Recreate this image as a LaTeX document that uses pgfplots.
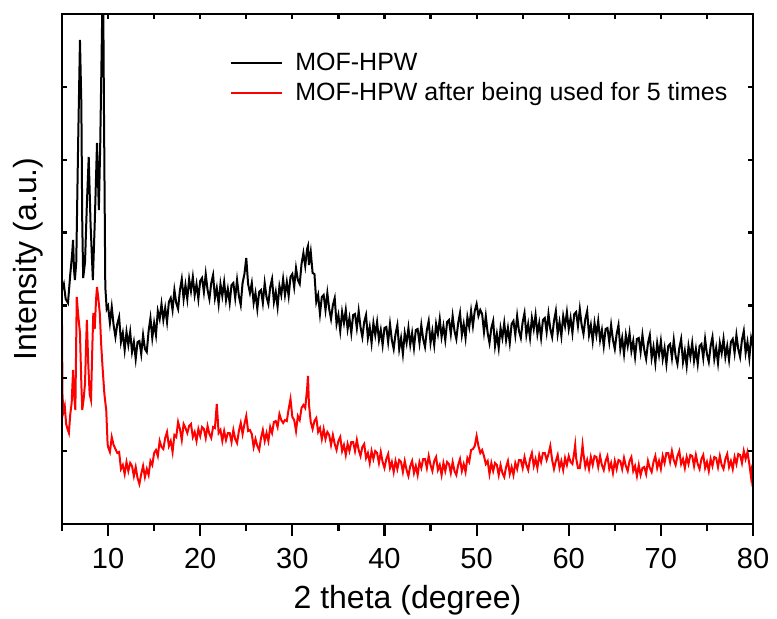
\documentclass[border=0pt]{standalone}
\usepackage{fontspec}
\setmainfont{Liberation Sans}
\usepackage{pgfplots}
\pgfplotsset{compat=1.18}
\begin{document}
\begin{tikzpicture}
\begin{axis}[
  name=ax,
  scale only axis, width=691pt, height=510pt,
  xmin=5, xmax=80, ymin=0, ymax=510,
  axis line style={line width=2.6pt},
  xtick={10,20,...,80}, minor xtick={5,15,...,75},
  xtick pos=left, tick align=outside,
  major tick length=12pt, minor tick length=7pt,
  every tick/.style={line width=2.2pt, black},
  ytick=\empty,
  /pgf/number format/assume math mode=true,
  xticklabel style={font=\fontsize{29}{34}\selectfont, yshift=-9pt},
  xlabel={2 theta (degree)}, ylabel={Intensity (a.u.)},
  label style={font=\fontsize{32}{38}\selectfont},
  xlabel style={at={(axis description cs:0.5,0)}, anchor=base, yshift=-84pt},
  ylabel style={at={(axis description cs:-0.049,0.52)}, anchor=center},
  legend cell align=left,
  legend image code/.code={\draw[#1] (0pt,0pt) -- (51pt,0pt);},
  legend style={at={(rel axis cs:0.239,0.931)}, anchor=north west, draw=none, fill=none,
    font=\fontsize{25}{30}\selectfont, row sep=6pt,
    nodes={inner sep=0pt, text height=19pt, text depth=5pt},
    /tikz/every odd column/.append style={column sep=12pt}},
]
\addplot[black, line width=2pt] coordinates {
(5.0,234)(5.2,240)(5.4,225)(5.65,221)(5.9,250)(6.1,270)(6.2,284)(6.3,255)(6.4,244)(6.55,262)(6.75,380)(6.95,484)(7.1,420)(7.2,300)(7.3,246)(7.5,262)(7.7,320)(7.9,367)(8.1,300)(8.35,244)(8.55,300)(8.8,381)(9.0,314)(9.15,380)(9.3,471)(9.45,560)(9.55,420)(9.7,237)(9.85,215)
(10.0,218)(10.2,201)(10.4,217)(10.6,199)(10.8,187)(11.0,200)(11.2,207)(11.4,182)(11.6,191)(11.8,174)(12.0,192)(12.2,179)(12.4,192)(12.6,172)(12.8,182)(13.0,165)(13.2,182)(13.4,183)(13.6,170)(13.8,189)(14.0,175)(14.2,172)(14.4,193)(14.6,206)(14.8,186)(15.0,201)(15.2,189)(15.4,213)(15.6,205)(15.8,220)(16.0,204)(16.2,216)(16.4,202)(16.6,222)(16.8,226)(17.0,214)(17.2,234)(17.4,221)(17.6,215)(17.8,234)(18.0,245)(18.2,225)(18.4,239)(18.6,225)(18.8,245)(19.0,233)(19.2,247)(19.4,229)(19.6,240)(19.8,225)(20.0,243)(20.2,246)(20.4,232)(20.6,250)(20.8,234)(21.0,225)(21.2,241)(21.4,249)(21.6,226)(21.8,236)(22.0,220)(22.2,240)(22.4,228)(22.6,242)(22.8,224)(23.0,235)(23.2,221)(23.4,239)(23.6,241)(23.8,226)(24.0,244)(24.2,228)(24.4,219)(24.6,241)(24.8,250)(25.0,266)(25.2,240)(25.4,231)(25.6,241)(25.8,221)(26.0,231)(26.2,215)(26.4,232)(26.6,234)(26.8,221)(27.0,241)(27.2,227)(27.4,220)(27.6,237)(27.8,245)(28.0,222)(28.2,232)(28.4,217)(28.6,238)(28.8,229)(29.0,245)(29.2,229)(29.4,242)(29.6,228)(29.8,247)(30.0,250)(30.2,237)(30.4,256)(30.6,244)(30.8,240)(31.0,260)(31.2,271)(31.4,258)(31.6,275)(31.7,278)(31.8,259)(32.0,272)(32.2,251)(32.4,250)(32.6,222)(32.8,229)(33.0,210)(33.2,227)(33.4,229)(33.6,214)(33.8,231)(34.0,215)(34.2,205)(34.4,219)(34.6,226)(34.8,200)
(35.0,209)(35.2,193)(35.4,212)(35.6,201)(35.8,214)(36.0,195)(36.2,206)(36.4,191)(36.6,209)(36.8,210)(37.0,196)(37.2,213)(37.4,197)(37.6,187)(37.8,202)(38.0,209)(38.2,186)(38.4,197)(38.6,181)(38.8,201)(39.0,189)(39.2,202)(39.4,184)(39.6,194)(39.8,179)(40.0,196)(40.2,197)(40.4,182)(40.6,200)(40.8,184)(41.0,175)(41.2,190)(41.4,199)(41.6,175)(41.8,186)(42.0,170)(42.2,191)(42.4,181)(42.6,196)(42.8,179)(43.0,191)(43.2,176)(43.4,194)(43.6,195)(43.8,181)(44.0,199)(44.2,185)(44.4,177)(44.6,194)(44.8,203)(45.0,181)(45.2,193)(45.4,179)(45.6,200)(45.8,190)(46.0,205)(46.2,187)(46.4,198)(46.6,184)(46.8,202)(47.0,204)(47.2,190)(47.4,208)(47.6,193)(47.8,185)(48.0,201)(48.2,211)(48.4,189)(48.6,200)(48.8,186)(49.0,207)(49.2,197)(49.4,213)(49.6,198)(49.8,213)(50.0,220)(50.2,208)(50.4,214)(50.6,210)(50.8,192)(51.0,208)(51.2,191)(51.4,181)(51.6,196)(51.8,203)(52.0,178)(52.2,190)(52.4,176)(52.6,196)(52.8,186)(53.0,201)(53.2,184)(53.4,196)(53.6,181)(53.8,200)(54.0,203)(54.2,189)(54.4,208)(54.6,193)(54.8,186)(55.0,202)(55.2,211)(55.4,189)(55.6,200)(55.8,186)(56.0,206)(56.2,195)(56.4,209)(56.6,190)(56.8,201)(57.0,186)(57.2,204)(57.4,206)(57.6,192)(57.8,210)(58.0,195)(58.2,187)(58.4,203)(58.6,213)(58.8,190)(59.0,202)(59.2,188)(59.4,208)(59.6,198)(59.8,212)(60.0,195)(60.2,206)(60.4,191)(60.6,210)(60.8,212)(61.0,198)(61.2,215)(61.4,199)(61.6,190)(61.8,205)(62.0,213)(62.2,189)(62.4,199)(62.6,183)(62.8,201)(63.0,189)(63.2,203)(63.4,184)(63.6,194)(63.8,178)(64.0,195)(64.2,196)(64.4,182)(64.6,199)(64.8,184)(65.0,175)(65.2,190)(65.4,199)(65.6,175)(65.8,186)(66.0,170)(66.2,189)(66.4,178)(66.6,191)(66.8,173)(67.0,183)(67.2,167)(67.4,185)(67.6,186)(67.8,172)(68.0,189)(68.2,174)(68.4,165)(68.6,181)(68.8,189)(69.0,166)(69.2,177)(69.4,161)(69.6,181)(69.8,169)(70.0,183)(70.2,165)(70.4,176)(70.6,160)(70.8,178)(71.0,180)(71.2,166)(71.4,184)(71.6,168)(71.8,160)(72.0,176)(72.2,185)(72.4,162)(72.6,173)(72.8,158)(73.0,178)(73.2,167)(73.4,181)(73.6,163)(73.8,175)(74.0,160)(74.2,178)(74.4,180)(74.6,166)(74.8,185)(75.0,170)(75.2,162)(75.4,178)(75.6,187)(75.8,165)(76.0,176)(76.2,161)(76.4,181)(76.6,171)(76.8,185)(77.0,167)(77.2,178)(77.4,164)(77.6,182)(77.8,185)(78.0,171)(78.2,189)(78.4,175)(78.6,167)(78.8,184)(79.0,193)(79.2,171)(79.4,182)(79.6,166)(79.8,186)(80.0,178)
};
\addlegendentry{MOF-HPW}
\addplot[red, line width=2pt] coordinates {
(5.0,199)(5.05,130)(5.15,112)(5.3,118)(5.45,100)(5.6,95)(5.75,91)(5.9,110)(6.05,121)(6.2,154)(6.3,130)(6.45,114)(6.6,227)(6.75,210)(6.95,191)(7.1,140)(7.2,114)(7.35,125)(7.5,141)(7.6,175)(7.7,204)(7.85,160)(8.0,130)(8.15,124)(8.3,180)(8.4,211)(8.55,195)(8.7,225)(8.8,237)(8.95,225)(9.1,211)(9.25,180)(9.4,157)(9.6,130)(9.8,114)(9.95,80)
(10.0,77)(10.2,72)(10.4,87)(10.6,79)(10.8,75)(11.0,71)(11.2,72)(11.4,55)(11.6,59)(11.8,50)(12.0,62)(12.2,53)(12.4,61)(12.6,58)(12.8,48)(13.0,57)(13.2,46)(13.4,40)(13.6,50)(13.8,58)(14.0,47)(14.2,55)(14.4,49)(14.6,63)(14.8,59)(15.0,71)(15.2,74)(15.4,68)(15.6,83)(15.8,77)(16.0,75)(16.2,86)(16.4,92)(16.6,78)(16.8,83)(17.0,72)(17.2,89)(17.4,87)(17.6,102)(17.8,95)(18.0,84)(18.2,100)(18.4,96)(18.6,91)(18.8,98)(19.0,100)(19.2,87)(19.4,92)(19.6,83)(19.8,95)(20.0,88)(20.2,97)(20.4,95)(20.6,86)(20.8,98)(21.0,90)(21.2,86)(21.4,97)(21.6,96)(21.8,120)(22.0,91)(22.2,94)(22.4,83)(22.6,93)(22.8,84)(23.0,91)(23.2,91)(23.4,82)(23.6,94)(23.8,85)(24.0,81)(24.2,93)(24.4,101)(24.6,90)(24.8,100)(25.0,108)(25.2,93)(25.4,94)(25.6,90)(25.8,77)(26.0,85)(26.2,78)(26.4,74)(26.6,86)(26.8,94)(27.0,83)(27.2,91)(27.4,83)(27.6,97)(27.8,91)(28.0,102)(28.2,103)(28.4,97)(28.6,110)(28.8,104)(29.0,101)(29.2,104)(29.4,103)(29.6,115)(29.8,125)(30.0,107)(30.2,104)(30.4,93)(30.6,108)(30.8,104)(31.0,116)(31.2,119)(31.4,116)(31.6,135)(31.7,148)(31.8,120)(32.0,102)(32.2,95)(32.4,103)(32.6,106)(32.8,92)(33.0,96)(33.2,85)(33.4,95)(33.6,85)(33.8,92)(34.0,89)(34.2,79)(34.4,89)(34.6,80)(34.8,74)
(35.0,83)(35.2,87)(35.4,73)(35.6,79)(35.8,69)(36.0,80)(36.2,73)(36.4,82)(36.6,82)(36.8,73)(37.0,84)(37.2,74)(37.4,68)(37.6,77)(37.8,80)(38.0,66)(38.2,71)(38.4,61)(38.6,73)(38.8,65)(39.0,73)(39.2,71)(39.4,61)(39.6,72)(39.8,62)(40.0,56)(40.2,65)(40.4,70)(40.6,56)(40.8,62)(41.0,52)(41.2,63)(41.4,55)(41.6,64)(41.8,62)(42.0,52)(42.2,63)(42.4,54)(42.6,48)(42.8,58)(43.0,63)(43.2,51)(43.4,58)(43.6,49)(43.8,62)(44.0,56)(44.2,65)(44.4,65)(44.6,56)(44.8,68)(45.0,59)(45.2,53)(45.4,63)(45.6,67)(45.8,54)(46.0,59)(46.2,49)(46.4,61)(46.6,53)(46.8,62)(47.0,60)(47.2,51)(47.4,62)(47.6,53)(47.8,49)(48.0,59)(48.2,65)(48.4,53)(48.6,60)(48.8,52)(49.0,66)(49.2,62)(49.4,74)(49.6,75)(49.8,78)(50.0,88)(50.2,78)(50.4,71)(50.6,74)(50.8,68)(51.0,60)(51.2,63)(51.4,50)(51.6,61)(51.8,53)(52.0,61)(52.2,59)(52.4,49)(52.6,59)(52.8,51)(53.0,47)(53.2,57)(53.4,63)(53.6,50)(53.8,57)(54.0,49)(54.2,61)(54.4,55)(54.6,64)(54.8,64)(55.0,56)(55.2,67)(55.4,59)(55.6,54)(55.8,65)(56.0,71)(56.2,58)(56.4,65)(56.6,56)(56.8,69)(57.0,62)(57.2,71)(57.4,71)(57.6,64)(57.8,70)(58.0,78)(58.2,64)(58.4,55)(58.6,63)(58.8,69)(59.0,56)(59.2,63)(59.4,54)(59.6,66)(59.8,59)(60.0,68)(60.2,62)(60.4,60)(60.6,72)(60.7,79)(60.8,66)(61.0,56)(61.2,56)(61.4,70)(61.5,79)(61.6,70)(61.8,57)(62.0,64)(62.2,55)(62.4,67)(62.6,59)(62.8,68)(63.0,67)(63.2,57)(63.4,68)(63.6,59)(63.8,54)(64.0,63)(64.2,68)(64.4,55)(64.6,61)(64.8,51)(65.0,63)(65.2,55)(65.4,64)(65.6,63)(65.8,55)(66.0,66)(66.2,58)(66.4,53)(66.6,63)(66.8,67)(67.0,53)(67.2,58)(67.4,48)(67.6,59)(67.8,49)(68.0,56)(68.2,57)(68.4,50)(68.6,63)(68.8,56)(69.0,52)(69.2,62)(69.4,68)(69.6,56)(69.8,63)(70.0,55)(70.2,68)(70.4,61)(70.6,71)(70.8,71)(71.0,62)(71.2,73)(71.4,64)(71.6,59)(71.8,68)(72.0,73)(72.2,60)(72.4,65)(72.6,56)(72.8,67)(73.0,60)(73.2,69)(73.4,68)(73.6,58)(73.8,69)(74.0,60)(74.2,55)(74.4,65)(74.6,69)(74.8,56)(75.0,62)(75.2,53)(75.4,65)(75.6,58)(75.8,67)(76.0,66)(76.2,57)(76.4,68)(76.6,59)(76.8,55)(77.0,65)(77.2,70)(77.4,57)(77.6,63)(77.8,55)(78.0,67)(78.2,60)(78.4,70)(78.6,69)(78.8,61)(79.0,73)(79.2,65)(79.4,72)(79.6,60)(79.8,46)(79.9,56)(80.0,54)
};
\addlegendentry{MOF-HPW after being used for 5 times}
\end{axis}
\begin{axis}[
  scale only axis, width=691pt, height=510pt,
  xmin=5, xmax=80, ymin=0, ymax=510,
  axis line style={line width=2.6pt},
  xtick={10,15,...,75}, xtick pos=right,
  ytick={72.857,145.714,218.571,291.429,364.286,437.143}, ytick pos=both,
  tick align=inside, major tick length=5pt,
  every tick/.style={line width=2.2pt, black},
  xticklabels={}, yticklabels={},
]
\end{axis}
\pgfresetboundingbox
\path[use as bounding box] ([xshift=-62pt,yshift=-94pt]ax.south west) rectangle ([xshift=24pt,yshift=14pt]ax.north east);
\end{tikzpicture}
\end{document}
